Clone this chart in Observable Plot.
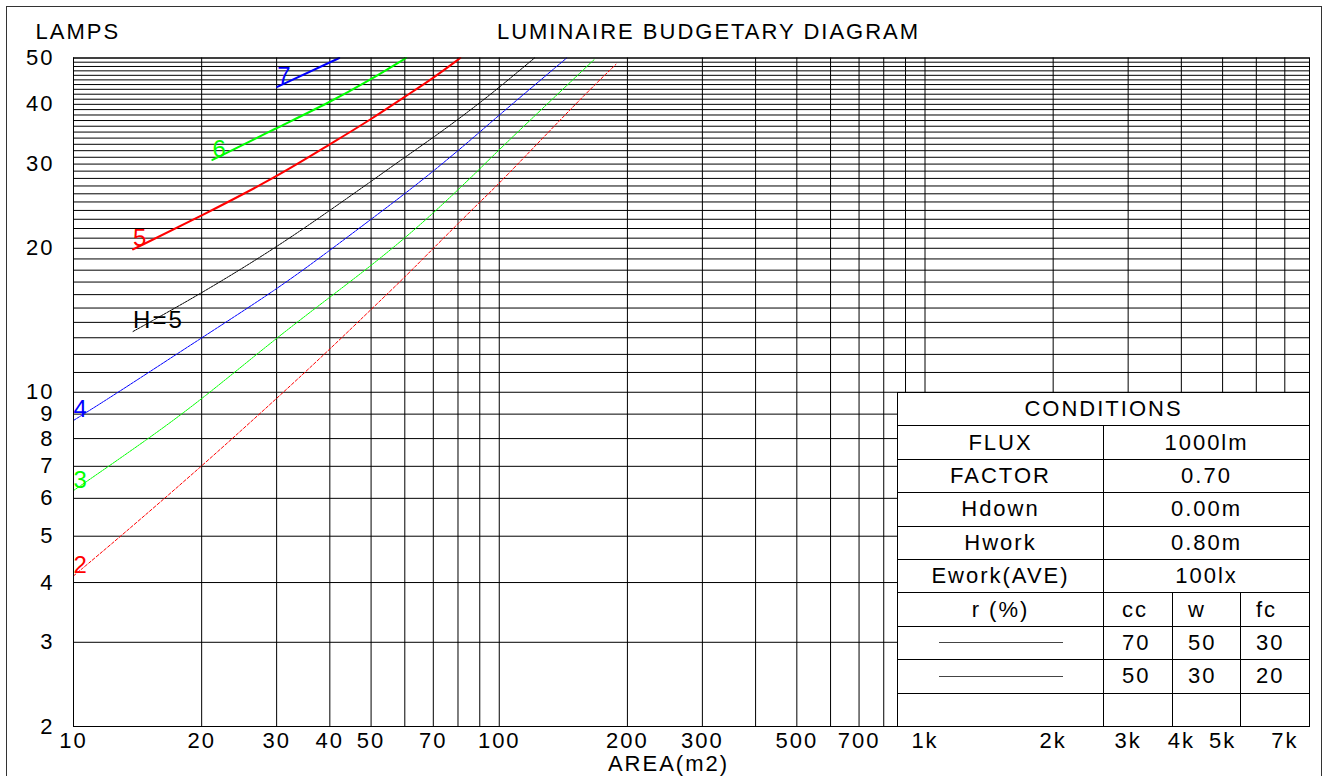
<!DOCTYPE html>
<html><head><meta charset="utf-8">
<script src="https://cdn.jsdelivr.net/npm/d3@7"></script>
<script src="https://cdn.jsdelivr.net/npm/@observablehq/plot@0.6"></script>
<style>
html,body{margin:0;padding:0;background:#fff;overflow:hidden;}
#wrap{position:relative;width:1327px;height:776px;font-family:"Liberation Sans",Arial,sans-serif;}
#border{position:absolute;left:6px;top:6px;width:1316px;height:800px;border:1px solid #333;pointer-events:none;box-sizing:border-box;}
#table{position:absolute;left:897px;top:392px;width:413px;height:335px;background:#000;display:grid;gap:1px;padding:1px;box-sizing:border-box;
  grid-template-columns:205px 68px 67px 68px;grid-template-rows:repeat(10,1fr);font-size:22px;letter-spacing:2px;color:#000;}
#table div{background:#fff;display:flex;align-items:center;justify-content:center;white-space:pre;}
#table div.l{justify-content:flex-start;}
#table .line{display:block;width:124px;height:1px;background:#444;}
g[aria-label="curve-labels"] text{letter-spacing:0;}
</style></head>
<body><div id="wrap"><div id="chart"></div><div id="table"></div><div id="border"></div></div>
<script>
// ---- axis ticks & grid ----
const xTicks = [10,20,30,40,50,70,100,200,300,500,700,1000,2000,3000,4000,5000,7000];
const xGrid = [10,20,30,40,50,60,70,80,90,100,200,300,400,500,600,700,800,900,1000,2000,3000,4000,5000,6000,7000,8000];
const yTicks = [2,3,4,5,6,7,8,9,10,20,30,40,50];
const yGrid = [2,3,4,5,6,7,8,9,10,11,12,13,14,15,16,17,18,19,20,21,22,23,24,25,26,27,28,29,30,31,32,33,34,35,36,37,38,39,40,41,42,43,44,45,46,47,48,49,50];

// ---- curves (area m2 -> lamps) ----
const seriesNames = ["2","3","4","H=5","5","6","7"];
const area2  = [10, 12.85, 20, 30, 40, 50, 60, 70, 80, 90, 100, 155, 188];
const lamps2 = [4.13, 4.98, 7.0, 9.7, 12.3, 14.9, 17.4, 20.0, 22.5, 25.0, 27.3, 41.1, 48.5];
const area3  = [10, 15.08, 20, 30, 40, 50, 60, 70, 80, 90, 100, 167];
const lamps3 = [6.23, 8.02, 9.66, 13.0, 15.8, 18.4, 21.0, 23.7, 26.5, 29.3, 32.2, 49.6];
const area4  = [10, 12.6, 20, 30, 40, 50, 60, 70, 80, 90, 100, 144];
const lamps4 = [8.73, 9.93, 13.0, 16.4, 19.8, 23.0, 26.0, 29.0, 32.0, 35.0, 38.0, 50];
const areaH5  = [13.8, 20, 30, 40, 50, 60, 70, 80, 90, 100, 121];
const lampsH5 = [13.4, 16.1, 20.1, 24.0, 27.6, 31.0, 34.1, 37.2, 40.3, 43.4, 50];
const area5  = [13.8, 20, 30, 40, 50, 60, 70, 81];
const lamps5 = [19.9, 23.4, 28.2, 33.0, 37.2, 41.5, 45.4, 50];
const area6  = [21.2, 30, 40, 50, 60.4];
const lamps6 = [30.6, 35.7, 40.4, 45.1, 50];
const area7  = [30.1, 42.1];
const lamps7 = [43.5, 50];

// ---- table content ----
const tableTitle = "CONDITIONS";
const condLabels = ["FLUX","FACTOR","Hdown","Hwork","Ework(AVE)"];
const condValues = ["1000lm","0.70","0.00m","0.80m","100lx"];
const reflLabel = "r (%)";
const reflHeaders = ["cc","w","fc"];
const reflRows = [[70,50,30],[50,30,20]];

// ---- styles (kept apart from data) ----
const styles = {
  "2":   {stroke:"#ff0000", width:1, dash:"3,2"},
  "3":   {stroke:"#00ff00", width:1, dash:"2,1"},
  "4":   {stroke:"#0000ff", width:1, dash:"3,1"},
  "H=5": {stroke:"#000000", width:1, dash:"2,1"},
  "5":   {stroke:"#ff0000", width:2, dash:null},
  "6":   {stroke:"#00ff00", width:2, dash:null},
  "7":   {stroke:"#0000ff", width:2, dash:null}
};
const seriesData = [[area2,lamps2],[area3,lamps3],[area4,lamps4],[areaH5,lampsH5],[area5,lamps5],[area6,lamps6],[area7,lamps7]];
const series = seriesNames.map((name,i)=>({
  name,
  pts: seriesData[i][0].map((a,j)=>({area:a, lamps:seriesData[i][1][j], name}))
}));
const labelPts = series.map(s=>s.pts[0]);

const lineMarks = series.map(s=>Plot.line(s.pts, {
  x:"area", y:"lamps", stroke:styles[s.name].stroke, strokeWidth:styles[s.name].width,
  strokeDasharray:styles[s.name].dash || undefined, curve:"basis"
}));

const fmtX = d => d >= 1000 ? (d/1000) + "k" : String(d);

const chart = Plot.plot({
  width:1327, height:776,
  marginLeft:73, marginRight:18, marginTop:57.5, marginBottom:50,
  style:{fontFamily:'"Liberation Sans", Arial, sans-serif', fontSize:"22px", letterSpacing:"2px", background:"transparent", color:"#000"},
  x:{type:"log", domain:[10,8000], axis:null},
  y:{type:"log", domain:[2,50], axis:null},
  marks:[
    Plot.ruleX(xGrid, {stroke:"#000", strokeWidth:1}),
    Plot.ruleY(yGrid, {stroke:"#000", strokeWidth:1}),
    ...lineMarks,
    Plot.text(labelPts, {x:"area", y:"lamps", text:"name", fill:d=>styles[d.name].stroke, textAnchor:"start", lineAnchor:"bottom", dy:-3, fontSize:24, ariaLabel:"curve-labels"}),
    Plot.frame({stroke:"#000"}),
    Plot.text(xTicks, {x:d=>d, text:fmtX, frameAnchor:"bottom", textAnchor:"middle", lineAnchor:"middle", dy:14, fill:"#000"}),
    Plot.text(yTicks, {y:d=>d, text:d=>String(d), frameAnchor:"left", textAnchor:"end", lineAnchor:"middle", dx:-19, fill:"#000"}),
    Plot.text(["LUMINAIRE BUDGETARY DIAGRAM"], {text:d=>d, frameAnchor:"top", textAnchor:"middle", lineAnchor:"middle", dx:17, dy:-26, fill:"#000"}),
    Plot.text(["LAMPS"], {text:d=>d, frameAnchor:"top-left", textAnchor:"start", lineAnchor:"middle", dx:-38, dy:-26, fill:"#000"}),
    Plot.text(["AREA(m2)"], {text:d=>d, frameAnchor:"bottom", textAnchor:"middle", lineAnchor:"middle", dx:-23, dy:37, fill:"#000"})
  ]
});
document.getElementById("chart").appendChild(chart);

// ---- conditions table overlay ----
const tbl = d3.select("#table");
function cell(text, col, colSpan, row, cls){
  const c = tbl.append("div").style("grid-column", `${col} / span ${colSpan}`).style("grid-row", `${row}`);
  if (cls) c.attr("class", cls);
  if (text !== null) c.text(text);
  return c;
}
cell(tableTitle, 1, 4, 1);
condLabels.forEach((lab,i)=>{ cell(lab,1,1,i+2); cell(condValues[i],2,3,i+2); });
cell(reflLabel,1,1,7);
const pads = [18,15,15];
reflHeaders.forEach((h,i)=>cell(h,i+2,1,7,"l").style("padding-left",pads[i]+"px"));
reflRows.forEach((row,r)=>{
  cell(null,1,1,r+8).append("span").attr("class","line");
  row.forEach((v,i)=>cell(String(v),i+2,1,r+8,"l").style("padding-left",pads[i]+"px"));
});
for (let c=1;c<=4;c++) cell(null,c,1,10);
</script>
</body></html>
